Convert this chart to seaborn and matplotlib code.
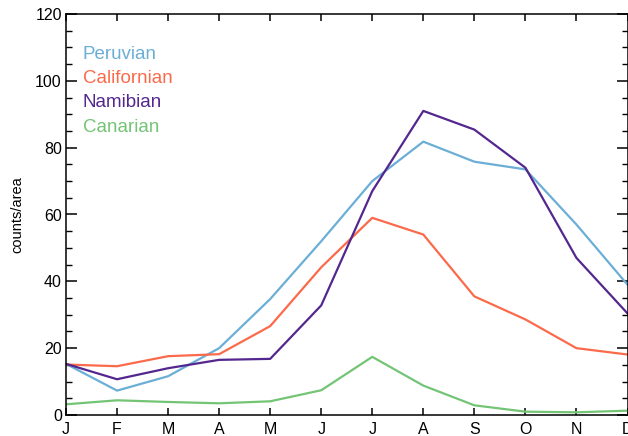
import matplotlib
matplotlib.use("Agg")
import matplotlib.pyplot as plt
import seaborn as sns
import pandas as pd
from matplotlib.ticker import MultipleLocator

months = ["J", "F", "M", "A", "M", "J", "J", "A", "S", "O", "N", "D"]
peruvian = [15.3, 7.3, 11.6, 20.0, 34.7, 52.0, 70.0, 81.8, 75.8, 73.5, 57.0, 39.0]
californian = [15.1, 14.6, 17.6, 18.2, 26.6, 44.2, 59.0, 54.0, 35.5, 28.6, 20.0, 18.1]
namibian = [15.3, 10.7, 14.0, 16.5, 16.8, 32.8, 67.0, 91.0, 85.4, 74.0, 47.0, 30.4]
canarian = [3.2, 4.4, 3.9, 3.5, 4.1, 7.4, 17.4, 8.8, 2.9, 1.0, 0.8, 1.3]

series = {"Peruvian": peruvian, "Californian": californian,
          "Namibian": namibian, "Canarian": canarian}
colors = {"Peruvian": "#6baed6", "Californian": "#fb6a4a",
          "Namibian": "#54278f", "Canarian": "#74c476"}

rows = []
for name, vals in series.items():
    for i, v in enumerate(vals):
        rows.append({"month": i, "value": v, "region": name})
df = pd.DataFrame(rows)

sns.set_style("ticks")
plt.rcParams["font.family"] = ["Liberation Sans", "DejaVu Sans"]
plt.rcParams["text.color"] = "black"
plt.rcParams["axes.labelcolor"] = "black"
plt.rcParams["xtick.color"] = "black"
plt.rcParams["ytick.color"] = "black"
plt.rcParams["axes.edgecolor"] = "black"

fig = plt.figure(figsize=(6.28, 4.36), dpi=100)
ax = fig.add_axes([66 / 628, 1 - 415 / 436, 561.5 / 628, 401 / 436])

sns.lineplot(data=df, x="month", y="value", hue="region", palette=colors,
             hue_order=list(series.keys()), linewidth=1.6, ax=ax, legend=False)

ax.set_xlim(0, 11)
ax.set_ylim(0, 120)
ax.set_xticks(range(12))
ax.set_xticklabels(months, fontsize=11.5)
ax.yaxis.set_major_locator(MultipleLocator(20))
ax.yaxis.set_minor_locator(MultipleLocator(5))
ax.tick_params(axis="y", which="major", direction="in", length=8, width=1.1,
               left=True, right=True, labelsize=11.5, pad=3)
ax.tick_params(axis="y", which="minor", direction="in", length=4, width=1.0,
               left=True, right=True)
ax.tick_params(axis="x", which="major", direction="in", length=5, width=1.1,
               top=True, bottom=True, pad=5)
for sp in ax.spines.values():
    sp.set_linewidth(1.1)
    sp.set_visible(True)
    sp.set_color("black")

ax.set_xlabel("")
ax.set_ylabel("counts/area", fontsize=10.5, labelpad=8)

ys = [0.899, 0.839, 0.779, 0.718]
for (name, _), yy in zip(series.items(), ys):
    ax.text(0.03, yy, name, color=colors[name], transform=ax.transAxes,
            fontsize=13.5, va="center", ha="left")

fig.savefig("out.png", dpi=100)
